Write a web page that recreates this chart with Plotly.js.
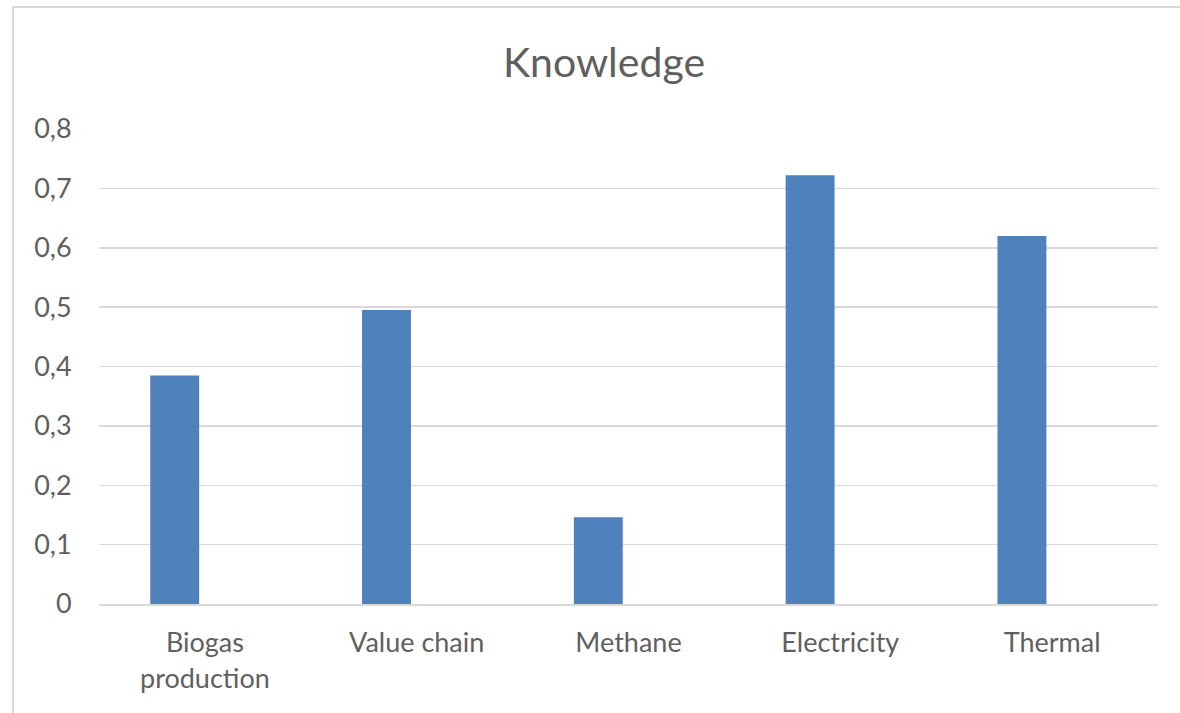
<!DOCTYPE html>
<html>
<head>
<meta charset="utf-8">
<script src="https://cdn.plot.ly/plotly-3.0.1.min.js"></script>
<style>
  html, body { margin: 0; padding: 0; background: #fff; }
  #wrap { position: relative; width: 1180px; height: 713px; overflow: hidden; }
  #chart { position: absolute; left: 0; top: 0; width: 1180px; height: 713px; }
  #frame { position: absolute; left: 12px; top: 6px; width: 3000px; height: 3000px;
           border-left: 2px solid #d9d9d9; border-top: 2px solid #d9d9d9; pointer-events: none; }
</style>
</head>
<body>
<div id="wrap">
  <div id="chart"></div>
  <div id="frame"></div>
</div>
<script>
const categories = ["Biogas<br>production", "Value chain", "Methane", "Electricity", "Thermal"];
const values = [0.385, 0.495, 0.146, 0.722, 0.62];
const tickValues = [0, 0.1, 0.2, 0.3, 0.4, 0.5, 0.6, 0.7, 0.8];
const tickLabels = ["0", "0,1", "0,2", "0,3", "0,4", "0,5", "0,6", "0,7", "0,8"];
const chartTitle = "Knowledge";

const FONT = "Lato, 'Open Sans', sans-serif";
const TXT = "#5f5f5f";
const data = [{
  type: "bar",
  x: categories,
  y: values,
  width: 0.231,
  offset: -0.258,
  marker: { color: "#4f81bd", line: { width: 0 } },
  hoverinfo: "skip"
}];

const layout = {
  width: 1180,
  height: 713,
  margin: { l: 99, r: 22, t: 129, b: 109, pad: 0 },
  paper_bgcolor: "#ffffff",
  plot_bgcolor: "#ffffff",
  showlegend: false,
  font: { family: FONT, color: TXT, size: 27 },
  title: {
    text: chartTitle,
    font: { family: FONT, size: 41, color: TXT },
    x: 604 / 1180, xanchor: "center",
    y: 1 - 63 / 713, yanchor: "middle", yref: "container"
  },
  xaxis: {
    type: "category",
    range: [-0.5, 4.5],
    showgrid: false,
    showline: true,
    linecolor: "#d9d9d9",
    linewidth: 2,
    zeroline: false,
    ticks: "outside",
    ticklen: 14,
    tickcolor: "rgba(0,0,0,0)",
    tickfont: { family: FONT, size: 27, color: TXT },
    fixedrange: true
  },
  yaxis: {
    range: [0, 0.8],
    tickmode: "array",
    tickvals: tickValues,
    ticktext: tickLabels,
    showgrid: true,
    gridcolor: "#d9d9d9",
    gridwidth: 1.5,
    zeroline: false,
    showline: false,
    ticks: "outside",
    ticklen: 21,
    tickcolor: "rgba(0,0,0,0)",
    tickfont: { family: FONT, size: 27, color: TXT },
    fixedrange: true
  }
};

Plotly.newPlot("chart", data, layout, { displayModeBar: false, staticPlot: true });
</script>
</body>
</html>
